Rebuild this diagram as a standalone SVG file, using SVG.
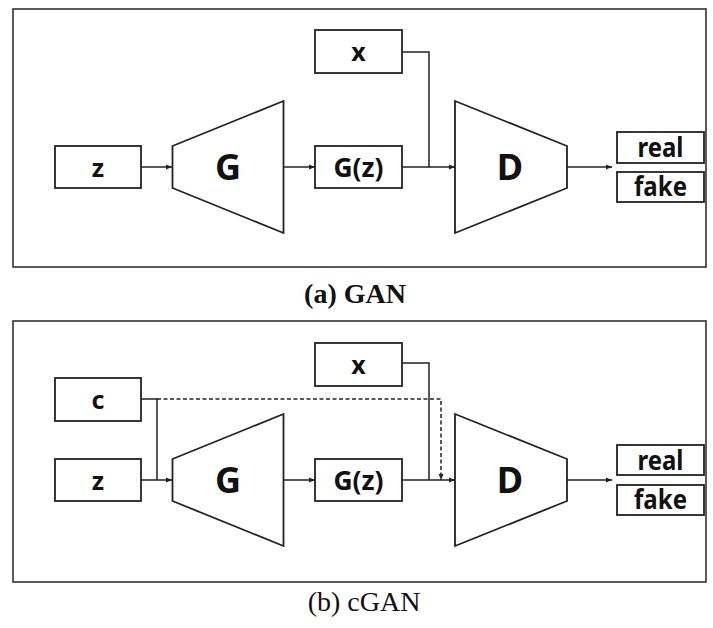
<svg xmlns="http://www.w3.org/2000/svg" width="713" height="628" viewBox="0 0 713 628">
<defs>
<marker id="ah" viewBox="0 0 10 10" refX="10" refY="5" markerWidth="6" markerHeight="6" markerUnits="userSpaceOnUse" orient="auto"><path d="M0,1 L10,5 L0,9 z" fill="#222"/></marker>
</defs>
<style>
.frame{fill:none;stroke:#333;stroke-width:1.6}
.box{fill:#fff;stroke:#222;stroke-width:1.8}
.lbl{font-family:"Noto Sans","Open Sans",sans-serif;font-weight:bold;fill:#111;text-anchor:middle}
.s{font-size:25px}
.m{font-size:27px}
.b{font-size:36px}
.c{fill:none;stroke:#222;stroke-width:1.5}
.d{fill:none;stroke:#222;stroke-width:1.5;stroke-dasharray:4,2.5}
.cap{font-family:"Liberation Serif",serif;font-size:28px;fill:#111;text-anchor:middle}
</style>
<rect class="frame" x="13" y="9" width="693" height="258"/>
<rect class="frame" x="13" y="321" width="693" height="261"/>
<g id="connectors">
<path class="c" d="M141,167 H172" marker-end="url(#ah)"/>
<path class="c" d="M284,167 H315" marker-end="url(#ah)"/>
<path class="c" d="M402,167 H455" marker-end="url(#ah)"/>
<path class="c" d="M402,52 H429 V167"/>
<path class="c" d="M567,167 H612" marker-end="url(#ah)"/>
<path class="c" d="M141,480 H172" marker-end="url(#ah)"/>
<path class="c" d="M141,399 H157 V480"/>
<path class="c" d="M284,480 H315" marker-end="url(#ah)"/>
<path class="c" d="M402,480 H455" marker-end="url(#ah)"/>
<path class="c" d="M402,363 H429 V480"/>
<path class="d" d="M157,399 H441 V480" marker-end="url(#ah)"/>
<path class="c" d="M567,480 H612" marker-end="url(#ah)"/>
</g>
<g id="a-x"><rect class="box" x="315" y="30" width="87" height="43"/><text class="lbl s" x="358.5" y="61">x</text></g>
<g id="a-z"><rect class="box" x="55" y="146" width="86" height="42"/><text class="lbl s" x="98" y="177">z</text></g>
<g id="a-G"><polygon class="box" points="172.5,146 283.5,101 283.5,233 172.5,188"/><text class="lbl b" x="228" y="180">G</text></g>
<g id="a-Gz"><rect class="box" x="315" y="146" width="87" height="42"/><text class="lbl m" x="358.5" y="177" textLength="50" lengthAdjust="spacingAndGlyphs">G(z)</text></g>
<g id="a-D"><polygon class="box" points="455,101 567,146 567,188 455,233"/><text class="lbl b" x="510" y="180">D</text></g>
<g id="a-real"><rect class="box" x="617" y="132" width="87" height="31"/><text class="lbl m" x="660.5" y="157" textLength="46" lengthAdjust="spacingAndGlyphs">real</text></g>
<g id="a-fake"><rect class="box" x="617" y="172" width="87" height="30"/><text class="lbl m" x="660.5" y="196" textLength="53" lengthAdjust="spacingAndGlyphs">fake</text></g>
<text class="cap" x="355" y="303" font-weight="bold">(a) GAN</text>
<g id="b-x"><rect class="box" x="315" y="343" width="87" height="43"/><text class="lbl s" x="358.5" y="374">x</text></g>
<g id="b-c"><rect class="box" x="55" y="378" width="86" height="43"/><text class="lbl s" x="98" y="409">c</text></g>
<g id="b-z"><rect class="box" x="55" y="459" width="86" height="42"/><text class="lbl s" x="98" y="490">z</text></g>
<g id="b-G"><polygon class="box" points="172.5,459 283.5,414 283.5,546 172.5,501"/><text class="lbl b" x="228" y="493">G</text></g>
<g id="b-Gz"><rect class="box" x="315" y="459" width="87" height="42"/><text class="lbl m" x="358.5" y="490" textLength="50" lengthAdjust="spacingAndGlyphs">G(z)</text></g>
<g id="b-D"><polygon class="box" points="455,414 567,459 567,501 455,546"/><text class="lbl b" x="510" y="493">D</text></g>
<g id="b-real"><rect class="box" x="617" y="445" width="87" height="30"/><text class="lbl m" x="660.5" y="470" textLength="46" lengthAdjust="spacingAndGlyphs">real</text></g>
<g id="b-fake"><rect class="box" x="617" y="485" width="87" height="30"/><text class="lbl m" x="660.5" y="509" textLength="53" lengthAdjust="spacingAndGlyphs">fake</text></g>
<text class="cap" x="364" y="611">(b) cGAN</text>
</svg>
